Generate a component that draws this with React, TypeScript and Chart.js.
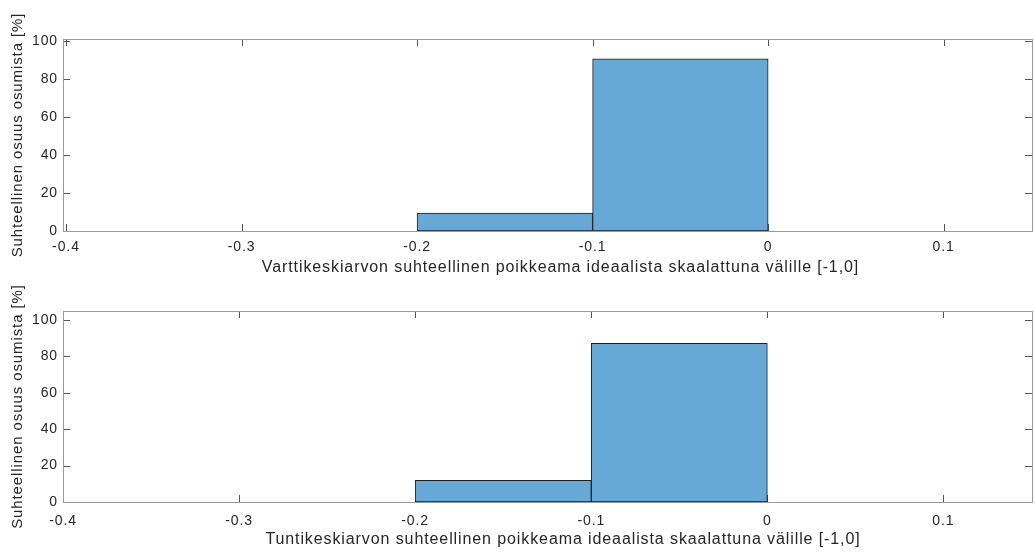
import React, { useEffect, useRef } from "react";
import { Chart, registerables } from "chart.js";

Chart.register(...registerables);

// ---- data ----
const BIN_EDGES = [-0.2, -0.1, 0];
const TOP_VALUES = [9.4, 90.6];
const BOTTOM_VALUES = [11.9, 87.2];
const X_TICKS = [-0.4, -0.3, -0.2, -0.1, 0, 0.1];
const X_TICK_LABELS = ["-0.4", "-0.3", "-0.2", "-0.1", "0", "0.1"];
const Y_TICKS = [0, 20, 40, 60, 80, 100];
const Y_LABEL = "Suhteellinen osuus osumista [%]";
const TOP_X_LABEL = "Varttikeskiarvon suhteellinen poikkeama ideaalista skaalattuna välille [-1,0]";
const BOTTOM_X_LABEL = "Tuntikeskiarvon suhteellinen poikkeama ideaalista skaalattuna välille [-1,0]";

const FONT_FAMILY = "'Liberation Sans', Arial, Helvetica, sans-serif";
const TEXT_COLOR = "#262626";
const BAR_FILL = "#66a9d7";
const BAR_EDGE = "#1e1e1e";
const BOX_COLOR = "#9a9a9a";
const TICK_COLOR = "#555555";
const TICK_LEN = 7;

const spacingPlugin = {
  id: "letterSpacing",
  beforeLayout(chart: any) {
    (chart.ctx as any).letterSpacing = "0.9px";
  },
  beforeDraw(chart: any) {
    (chart.ctx as any).letterSpacing = "0.9px";
  },
};

const boxPlugin = {
  id: "matlabBox",
  beforeDatasetsDraw(chart: any) {
    const { ctx, chartArea: a, scales } = chart;
    const x = scales.x;
    const y = scales.y;
    ctx.save();
    ctx.strokeStyle = TICK_COLOR;
    ctx.lineWidth = 1;
    ctx.beginPath();
    for (const v of X_TICKS) {
      const px = Math.round(x.getPixelForValue(v)) + 0.5;
      if (px < a.left || px > a.right) continue;
      ctx.moveTo(px, a.bottom);
      ctx.lineTo(px, a.bottom - TICK_LEN);
      ctx.moveTo(px, a.top);
      ctx.lineTo(px, a.top + TICK_LEN);
    }
    for (const v of Y_TICKS) {
      const py = Math.round(y.getPixelForValue(v)) + 0.5;
      ctx.moveTo(a.left, py);
      ctx.lineTo(a.left + TICK_LEN, py);
      ctx.moveTo(a.right, py);
      ctx.lineTo(a.right - TICK_LEN, py);
    }
    ctx.stroke();
    ctx.restore();
  },
  afterDatasetsDraw(chart: any) {
    const { ctx, chartArea: a } = chart;
    ctx.save();
    ctx.strokeStyle = BOX_COLOR;
    ctx.lineWidth = 1;
    ctx.strokeRect(
      Math.round(a.left) + 0.5,
      Math.round(a.top) + 0.5,
      Math.round(a.right) - Math.round(a.left),
      Math.round(a.bottom) - Math.round(a.top)
    );
    ctx.restore();
  },
};

type PanelProps = {
  values: number[];
  xMin: number;
  xMax: number;
  yMax: number;
  xLabel: string;
  width: number;
  height: number;
  padTop: number;
  padRight: number;
  xAxisHeight: number;
  tickPad: number;
  xTitleCenter: number;
  xTitleFromBottom: number;
};

function Panel(p: PanelProps) {
  const ref = useRef<HTMLCanvasElement | null>(null);
  useEffect(() => {
    if (!ref.current) return;
    const centers = BIN_EDGES.slice(0, -1).map((e, i) => (e + BIN_EDGES[i + 1]) / 2);
    const xTitlePlugin = {
      id: "xTitle",
      afterDraw(chart: any) {
        const ctx = chart.ctx;
        ctx.save();
        (ctx as any).letterSpacing = "0.9px";
        ctx.font = `16px ${FONT_FAMILY}`;
        ctx.fillStyle = TEXT_COLOR;
        ctx.textAlign = "center";
        ctx.textBaseline = "middle";
        ctx.fillText(p.xLabel, p.xTitleCenter, chart.height - p.xTitleFromBottom);
        ctx.restore();
      },
    };
    const chart = new Chart(ref.current, {
      type: "bar",
      data: {
        datasets: [
          {
            data: centers.map((c, i) => ({ x: c, y: p.values[i] })),
            backgroundColor: BAR_FILL,
            borderColor: BAR_EDGE,
            borderWidth: 1,
            borderSkipped: false,
            barPercentage: 1,
            categoryPercentage: 1,
          } as any,
        ],
      },
      options: {
        responsive: false,
        animation: false,
        devicePixelRatio: 1,
        layout: { padding: { top: p.padTop, right: p.padRight, left: 0, bottom: 0 } },
        plugins: {
          legend: { display: false },
          tooltip: { enabled: false },
        },
        scales: {
          x: {
            type: "linear",
            min: p.xMin,
            max: p.xMax,
            offset: false,
            grid: { display: false, drawTicks: false },
            border: { display: false },
            afterBuildTicks: (s: any) => {
              s.ticks = X_TICKS.map((v) => ({ value: v }));
            },
            afterFit: (s: any) => {
              s.height = p.xAxisHeight;
            },
            ticks: {
              padding: p.tickPad,
              maxRotation: 0,
              autoSkip: false,
              color: TEXT_COLOR,
              font: { family: FONT_FAMILY, size: 14 },
              callback: (v: any) => {
                const i = X_TICKS.findIndex((t) => Math.abs(t - Number(v)) < 1e-9);
                return i >= 0 ? X_TICK_LABELS[i] : "";
              },
            },
            title: { display: false },
          } as any,
          y: {
            type: "linear",
            min: 0,
            max: p.yMax,
            grid: { display: false, drawTicks: false },
            border: { display: false },
            afterBuildTicks: (s: any) => {
              s.ticks = Y_TICKS.map((v) => ({ value: v }));
            },
            afterFit: (s: any) => {
              s.width = 63;
            },
            ticks: {
              padding: 5,
              color: TEXT_COLOR,
              font: { family: FONT_FAMILY, size: 14 },
            },
            title: {
              display: true,
              text: Y_LABEL,
              color: TEXT_COLOR,
              font: { family: FONT_FAMILY, size: 15 },
              padding: { top: 9, bottom: 0 },
            },
          } as any,
        },
      },
      plugins: [spacingPlugin, boxPlugin, xTitlePlugin],
    });
    return () => chart.destroy();
  }, []);
  return <canvas ref={ref} width={p.width} height={p.height} style={{ display: "block", width: p.width, height: p.height }} />;
}

export default function App() {
  return (
    <div
      style={{
        position: "fixed",
        left: 0,
        top: 0,
        width: 1035,
        height: 552,
        overflow: "hidden",
        background: "#ffffff",
      }}
    >
      <div style={{ position: "absolute", left: 0, top: 0 }}>
        <Panel
          values={TOP_VALUES}
          xMin={-0.4017}
          xMax={0.1503}
          yMax={101}
          xLabel={TOP_X_LABEL}
          width={1035}
          height={280}
          padTop={39}
          padRight={3}
          xAxisHeight={49}
          tickPad={8}
          xTitleCenter={560.5}
          xTitleFromBottom={12}
        />
      </div>
      <div style={{ position: "absolute", left: 0, top: 280 }}>
        <Panel
          values={BOTTOM_VALUES}
          xMin={-0.4}
          xMax={0.1503}
          yMax={105}
          xLabel={BOTTOM_X_LABEL}
          width={1035}
          height={272}
          padTop={31}
          padRight={3}
          xAxisHeight={50}
          tickPad={11}
          xTitleCenter={563}
          xTitleFromBottom={12}
        />
      </div>
    </div>
  );
}
